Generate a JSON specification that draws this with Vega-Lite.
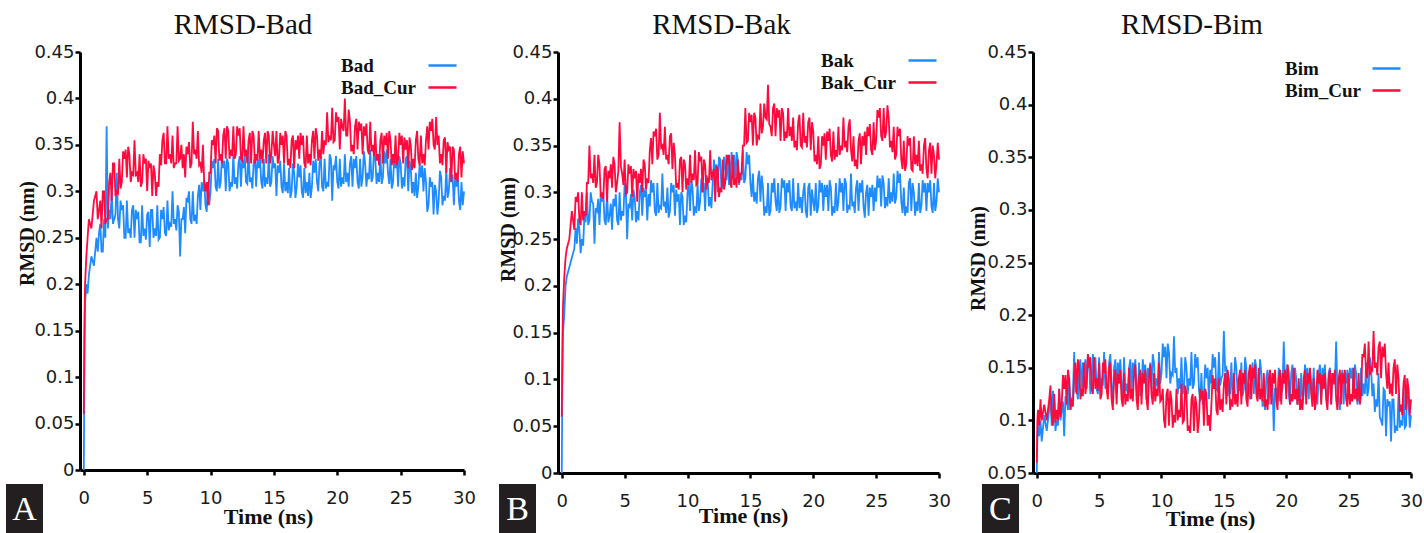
{
"$schema":"https://vega.github.io/schema/vega-lite/v6.json",
"autosize":{"type":"pad"},
"padding":{"left":5,"top":11,"right":0,"bottom":0},
"background":"white",
"spacing":94,
"bounds":"flush",
"config":{
 "view":{"stroke":null},
 "axis":{"domainColor":"black","domainWidth":3,"tickColor":"black","tickWidth":2.5,"tickSize":5,"grid":false,"labelFont":"DejaVu Sans","labelFontSize":18,"labelColor":"#1a1a1a","labelFlush":false,"labelOverlap":false,"titleFont":"Liberation Serif","titleFontSize":20,"titleFontWeight":"bold","titleColor":"#111","titleBaseline":"alphabetic"},
 "axisX":{"labelPadding":14,"titleFontSize":22},
 "axisY":{"labelPadding":1,"titleAngle":-90},
 "title":{"font":"Liberation Serif","fontSize":29,"fontWeight":"normal","color":"#111","frame":"group","anchor":"middle","baseline":"alphabetic","offset":3},
 "legend":{"orient":"top-right","title":null,"symbolType":"M-1.4,0H1.4","symbolSize":400,"symbolStrokeWidth":2.5,"labelFont":"Liberation Serif","labelFontWeight":"bold","labelFontSize":19,"labelColor":"#111","labelAlign":"left","labelOffset":-113,"rowPadding":0,"padding":0}
},
"datasets":{"rmsd":[
{"t":0,"Bad":0,"Bad_Cur":0.06,"Bak":0,"Bak_Cur":0.06,"Bim":0.05,"Bim_Cur":0.06},
{"t":0.05,"Bad":0.12,"Bad_Cur":0.16,"Bak":0.1,"Bak_Cur":0.14,"Bim":0.08,"Bim_Cur":0.1},
{"t":0.1,"Bad":0.18,"Bad_Cur":0.2,"Bak":0.15,"Bak_Cur":0.18,"Bim":0.095,"Bim_Cur":0.11},
{"t":0.2,"Bad":0.2,"Bad_Cur":0.23,"Bak":0.17,"Bak_Cur":0.21,"Bim":0.085,"Bim_Cur":0.095},
{"t":0.3,"Bad":0.19,"Bad_Cur":0.25,"Bak":0.2,"Bak_Cur":0.23,"Bim":0.1,"Bim_Cur":0.12},
{"t":0.4,"Bad":0.21,"Bad_Cur":0.27,"Bak":0.21,"Bak_Cur":0.24,"Bim":0.08,"Bim_Cur":0.1},
{"t":0.6,"Bad":0.23,"Bad_Cur":0.26,"Bak":0.22,"Bak_Cur":0.25,"Bim":0.105,"Bim_Cur":0.115},
{"t":0.8,"Bad":0.22,"Bad_Cur":0.29,"Bak":0.23,"Bak_Cur":0.28,"Bim":0.09,"Bim_Cur":0.1},
{"t":1.0,"Bad":0.25,"Bad_Cur":0.3,"Bak":0.24,"Bak_Cur":0.26,"Bim":0.11,"Bim_Cur":0.12},
{"t":1.2,"Bad":0.255,"Bad_Cur":0.28,"Bak":0.245,"Bak_Cur":0.29,"Bim":0.095,"Bim_Cur":0.105},
{"t":1.4,"Bad":0.235,"Bad_Cur":0.26,"Bak":0.26,"Bak_Cur":0.27,"Bim":0.12,"Bim_Cur":0.125},
{"t":1.6,"Bad":0.27,"Bad_Cur":0.3,"Bak":0.25,"Bak_Cur":0.3,"Bim":0.1,"Bim_Cur":0.11},
{"t":1.8,"Bad":0.37,"Bad_Cur":0.27,"Bak":0.275,"Bak_Cur":0.28,"Bim":0.13,"Bim_Cur":0.13},
{"t":2.0,"Bad":0.28,"Bad_Cur":0.31,"Bak":0.3,"Bak_Cur":0.31,"Bim":0.11,"Bim_Cur":0.115},
{"t":2.2,"Bad":0.3,"Bad_Cur":0.29,"Bak":0.27,"Bak_Cur":0.35,"Bim":0.085,"Bim_Cur":0.13},
{"t":2.4,"Bad":0.27,"Bad_Cur":0.33,"Bak":0.29,"Bak_Cur":0.32,"Bim":0.12,"Bim_Cur":0.115},
{"t":2.6,"Bad":0.32,"Bad_Cur":0.3,"Bak":0.245,"Bak_Cur":0.34,"Bim":0.14,"Bim_Cur":0.14},
{"t":2.8,"Bad":0.26,"Bad_Cur":0.335,"Bak":0.28,"Bak_Cur":0.31,"Bim":0.12,"Bim_Cur":0.12},
{"t":3.0,"Bad":0.28,"Bad_Cur":0.31,"Bak":0.265,"Bak_Cur":0.33,"Bim":0.165,"Bim_Cur":0.145},
{"t":3.2,"Bad":0.25,"Bad_Cur":0.335,"Bak":0.29,"Bak_Cur":0.3,"Bim":0.13,"Bim_Cur":0.125},
{"t":3.4,"Bad":0.29,"Bad_Cur":0.315,"Bak":0.27,"Bak_Cur":0.325,"Bim":0.15,"Bim_Cur":0.15},
{"t":3.6,"Bad":0.26,"Bad_Cur":0.34,"Bak":0.3,"Bak_Cur":0.29,"Bim":0.125,"Bim_Cur":0.13},
{"t":3.8,"Bad":0.28,"Bad_Cur":0.32,"Bak":0.275,"Bak_Cur":0.315,"Bim":0.145,"Bim_Cur":0.155},
{"t":4.0,"Bad":0.25,"Bad_Cur":0.355,"Bak":0.26,"Bak_Cur":0.305,"Bim":0.13,"Bim_Cur":0.135},
{"t":4.2,"Bad":0.27,"Bad_Cur":0.32,"Bak":0.285,"Bak_Cur":0.33,"Bim":0.155,"Bim_Cur":0.15},
{"t":4.4,"Bad":0.245,"Bad_Cur":0.34,"Bak":0.27,"Bak_Cur":0.31,"Bim":0.135,"Bim_Cur":0.13},
{"t":4.6,"Bad":0.285,"Bad_Cur":0.31,"Bak":0.3,"Bak_Cur":0.375,"Bim":0.15,"Bim_Cur":0.16},
{"t":4.8,"Bad":0.26,"Bad_Cur":0.33,"Bak":0.28,"Bak_Cur":0.32,"Bim":0.13,"Bim_Cur":0.14},
{"t":5.0,"Bad":0.275,"Bad_Cur":0.3,"Bak":0.31,"Bak_Cur":0.335,"Bim":0.16,"Bim_Cur":0.155},
{"t":5.2,"Bad":0.24,"Bad_Cur":0.325,"Bak":0.25,"Bak_Cur":0.3,"Bim":0.14,"Bim_Cur":0.125},
{"t":5.4,"Bad":0.28,"Bad_Cur":0.295,"Bak":0.285,"Bak_Cur":0.32,"Bim":0.165,"Bim_Cur":0.145},
{"t":5.6,"Bad":0.26,"Bad_Cur":0.32,"Bak":0.27,"Bak_Cur":0.295,"Bim":0.135,"Bim_Cur":0.13},
{"t":5.8,"Bad":0.285,"Bad_Cur":0.31,"Bak":0.295,"Bak_Cur":0.315,"Bim":0.155,"Bim_Cur":0.15},
{"t":6.0,"Bad":0.25,"Bad_Cur":0.34,"Bak":0.28,"Bak_Cur":0.29,"Bim":0.13,"Bim_Cur":0.12},
{"t":6.2,"Bad":0.27,"Bad_Cur":0.355,"Bak":0.3,"Bak_Cur":0.31,"Bim":0.15,"Bim_Cur":0.14},
{"t":6.4,"Bad":0.255,"Bad_Cur":0.33,"Bak":0.275,"Bak_Cur":0.3,"Bim":0.125,"Bim_Cur":0.115},
{"t":6.6,"Bad":0.29,"Bad_Cur":0.37,"Bak":0.295,"Bak_Cur":0.33,"Bim":0.145,"Bim_Cur":0.135},
{"t":6.8,"Bad":0.265,"Bad_Cur":0.34,"Bak":0.27,"Bak_Cur":0.315,"Bim":0.13,"Bim_Cur":0.12},
{"t":7.0,"Bad":0.3,"Bad_Cur":0.36,"Bak":0.285,"Bak_Cur":0.345,"Bim":0.16,"Bim_Cur":0.145},
{"t":7.2,"Bad":0.27,"Bad_Cur":0.33,"Bak":0.3,"Bak_Cur":0.33,"Bim":0.135,"Bim_Cur":0.125},
{"t":7.4,"Bad":0.285,"Bad_Cur":0.37,"Bak":0.28,"Bak_Cur":0.36,"Bim":0.15,"Bim_Cur":0.15},
{"t":7.6,"Bad":0.23,"Bad_Cur":0.335,"Bak":0.31,"Bak_Cur":0.335,"Bim":0.125,"Bim_Cur":0.13},
{"t":7.8,"Bad":0.27,"Bad_Cur":0.325,"Bak":0.285,"Bak_Cur":0.385,"Bim":0.145,"Bim_Cur":0.145},
{"t":8.0,"Bad":0.255,"Bad_Cur":0.315,"Bak":0.32,"Bak_Cur":0.35,"Bim":0.13,"Bim_Cur":0.12},
{"t":8.2,"Bad":0.29,"Bad_Cur":0.34,"Bak":0.29,"Bak_Cur":0.37,"Bim":0.155,"Bim_Cur":0.14},
{"t":8.4,"Bad":0.27,"Bad_Cur":0.325,"Bak":0.305,"Bak_Cur":0.34,"Bim":0.13,"Bim_Cur":0.115},
{"t":8.6,"Bad":0.3,"Bad_Cur":0.375,"Bak":0.28,"Bak_Cur":0.36,"Bim":0.145,"Bim_Cur":0.135},
{"t":8.8,"Bad":0.275,"Bad_Cur":0.345,"Bak":0.3,"Bak_Cur":0.325,"Bim":0.12,"Bim_Cur":0.12},
{"t":9.0,"Bad":0.295,"Bad_Cur":0.365,"Bak":0.275,"Bak_Cur":0.34,"Bim":0.14,"Bim_Cur":0.14},
{"t":9.2,"Bad":0.28,"Bad_Cur":0.33,"Bak":0.29,"Bak_Cur":0.31,"Bim":0.13,"Bim_Cur":0.125},
{"t":9.4,"Bad":0.3,"Bad_Cur":0.35,"Bak":0.265,"Bak_Cur":0.335,"Bim":0.155,"Bim_Cur":0.145},
{"t":9.6,"Bad":0.285,"Bad_Cur":0.3,"Bak":0.295,"Bak_Cur":0.3,"Bim":0.14,"Bim_Cur":0.13},
{"t":9.8,"Bad":0.31,"Bad_Cur":0.285,"Bak":0.275,"Bak_Cur":0.33,"Bim":0.165,"Bim_Cur":0.155},
{"t":10.0,"Bad":0.3,"Bad_Cur":0.32,"Bak":0.3,"Bak_Cur":0.315,"Bim":0.145,"Bim_Cur":0.12},
{"t":10.2,"Bad":0.325,"Bad_Cur":0.35,"Bak":0.28,"Bak_Cur":0.34,"Bim":0.16,"Bim_Cur":0.1},
{"t":10.4,"Bad":0.305,"Bad_Cur":0.33,"Bak":0.305,"Bak_Cur":0.32,"Bim":0.14,"Bim_Cur":0.125},
{"t":10.6,"Bad":0.335,"Bad_Cur":0.365,"Bak":0.285,"Bak_Cur":0.345,"Bim":0.165,"Bim_Cur":0.095},
{"t":10.8,"Bad":0.31,"Bad_Cur":0.34,"Bak":0.31,"Bak_Cur":0.31,"Bim":0.145,"Bim_Cur":0.12},
{"t":11.0,"Bad":0.325,"Bad_Cur":0.36,"Bak":0.29,"Bak_Cur":0.335,"Bim":0.18,"Bim_Cur":0.105},
{"t":11.2,"Bad":0.3,"Bad_Cur":0.335,"Bak":0.3,"Bak_Cur":0.3,"Bim":0.15,"Bim_Cur":0.13},
{"t":11.4,"Bad":0.33,"Bad_Cur":0.365,"Bak":0.28,"Bak_Cur":0.33,"Bim":0.14,"Bim_Cur":0.11},
{"t":11.6,"Bad":0.31,"Bad_Cur":0.345,"Bak":0.315,"Bak_Cur":0.315,"Bim":0.16,"Bim_Cur":0.135},
{"t":11.8,"Bad":0.34,"Bad_Cur":0.37,"Bak":0.295,"Bak_Cur":0.345,"Bim":0.13,"Bim_Cur":0.1},
{"t":12.0,"Bad":0.315,"Bad_Cur":0.34,"Bak":0.31,"Bak_Cur":0.32,"Bim":0.15,"Bim_Cur":0.125},
{"t":12.2,"Bad":0.33,"Bad_Cur":0.36,"Bak":0.32,"Bak_Cur":0.29,"Bim":0.14,"Bim_Cur":0.095},
{"t":12.4,"Bad":0.305,"Bad_Cur":0.335,"Bak":0.3,"Bak_Cur":0.325,"Bim":0.165,"Bim_Cur":0.12},
{"t":12.6,"Bad":0.325,"Bad_Cur":0.37,"Bak":0.335,"Bak_Cur":0.305,"Bim":0.135,"Bim_Cur":0.09},
{"t":12.8,"Bad":0.31,"Bad_Cur":0.345,"Bak":0.31,"Bak_Cur":0.335,"Bim":0.15,"Bim_Cur":0.115},
{"t":13.0,"Bad":0.345,"Bad_Cur":0.355,"Bak":0.325,"Bak_Cur":0.31,"Bim":0.13,"Bim_Cur":0.1},
{"t":13.2,"Bad":0.315,"Bad_Cur":0.33,"Bak":0.34,"Bak_Cur":0.33,"Bim":0.145,"Bim_Cur":0.12},
{"t":13.4,"Bad":0.33,"Bad_Cur":0.36,"Bak":0.315,"Bak_Cur":0.31,"Bim":0.125,"Bim_Cur":0.095},
{"t":13.6,"Bad":0.305,"Bad_Cur":0.34,"Bak":0.33,"Bak_Cur":0.34,"Bim":0.14,"Bim_Cur":0.125},
{"t":13.8,"Bad":0.325,"Bad_Cur":0.365,"Bak":0.31,"Bak_Cur":0.315,"Bim":0.12,"Bim_Cur":0.105},
{"t":14.0,"Bad":0.31,"Bad_Cur":0.345,"Bak":0.335,"Bak_Cur":0.335,"Bim":0.135,"Bim_Cur":0.115},
{"t":14.2,"Bad":0.335,"Bad_Cur":0.355,"Bak":0.32,"Bak_Cur":0.32,"Bim":0.15,"Bim_Cur":0.13},
{"t":14.4,"Bad":0.315,"Bad_Cur":0.33,"Bak":0.345,"Bak_Cur":0.35,"Bim":0.13,"Bim_Cur":0.11},
{"t":14.6,"Bad":0.34,"Bad_Cur":0.36,"Bak":0.315,"Bak_Cur":0.39,"Bim":0.165,"Bim_Cur":0.14},
{"t":14.8,"Bad":0.31,"Bad_Cur":0.34,"Bak":0.33,"Bak_Cur":0.355,"Bim":0.14,"Bim_Cur":0.12},
{"t":15.0,"Bad":0.325,"Bad_Cur":0.35,"Bak":0.31,"Bak_Cur":0.375,"Bim":0.185,"Bim_Cur":0.135},
{"t":15.2,"Bad":0.295,"Bad_Cur":0.365,"Bak":0.32,"Bak_Cur":0.35,"Bim":0.15,"Bim_Cur":0.115},
{"t":15.4,"Bad":0.32,"Bad_Cur":0.335,"Bak":0.3,"Bak_Cur":0.38,"Bim":0.135,"Bim_Cur":0.14},
{"t":15.6,"Bad":0.305,"Bad_Cur":0.35,"Bak":0.315,"Bak_Cur":0.36,"Bim":0.155,"Bim_Cur":0.12},
{"t":15.8,"Bad":0.33,"Bad_Cur":0.33,"Bak":0.29,"Bak_Cur":0.395,"Bim":0.13,"Bim_Cur":0.145},
{"t":16.0,"Bad":0.31,"Bad_Cur":0.36,"Bak":0.305,"Bak_Cur":0.37,"Bim":0.15,"Bim_Cur":0.125},
{"t":16.2,"Bad":0.325,"Bad_Cur":0.335,"Bak":0.285,"Bak_Cur":0.38,"Bim":0.14,"Bim_Cur":0.14},
{"t":16.4,"Bad":0.3,"Bad_Cur":0.355,"Bak":0.31,"Bak_Cur":0.415,"Bim":0.155,"Bim_Cur":0.115},
{"t":16.6,"Bad":0.32,"Bad_Cur":0.325,"Bak":0.28,"Bak_Cur":0.37,"Bim":0.13,"Bim_Cur":0.135},
{"t":16.8,"Bad":0.305,"Bad_Cur":0.345,"Bak":0.3,"Bak_Cur":0.39,"Bim":0.15,"Bim_Cur":0.12},
{"t":17.0,"Bad":0.315,"Bad_Cur":0.335,"Bak":0.29,"Bak_Cur":0.36,"Bim":0.135,"Bim_Cur":0.145},
{"t":17.2,"Bad":0.3,"Bad_Cur":0.35,"Bak":0.31,"Bak_Cur":0.38,"Bim":0.145,"Bim_Cur":0.12},
{"t":17.4,"Bad":0.325,"Bad_Cur":0.33,"Bak":0.285,"Bak_Cur":0.355,"Bim":0.125,"Bim_Cur":0.14},
{"t":17.6,"Bad":0.31,"Bad_Cur":0.36,"Bak":0.305,"Bak_Cur":0.385,"Bim":0.15,"Bim_Cur":0.125},
{"t":17.8,"Bad":0.32,"Bad_Cur":0.34,"Bak":0.28,"Bak_Cur":0.365,"Bim":0.13,"Bim_Cur":0.15},
{"t":18.0,"Bad":0.305,"Bad_Cur":0.355,"Bak":0.3,"Bak_Cur":0.39,"Bim":0.145,"Bim_Cur":0.13},
{"t":18.2,"Bad":0.32,"Bad_Cur":0.335,"Bak":0.285,"Bak_Cur":0.37,"Bim":0.12,"Bim_Cur":0.145},
{"t":18.4,"Bad":0.31,"Bad_Cur":0.36,"Bak":0.315,"Bak_Cur":0.38,"Bim":0.14,"Bim_Cur":0.12},
{"t":18.6,"Bad":0.33,"Bad_Cur":0.345,"Bak":0.29,"Bak_Cur":0.355,"Bim":0.115,"Bim_Cur":0.14},
{"t":18.8,"Bad":0.305,"Bad_Cur":0.365,"Bak":0.31,"Bak_Cur":0.375,"Bim":0.135,"Bim_Cur":0.115},
{"t":19.0,"Bad":0.335,"Bad_Cur":0.355,"Bak":0.295,"Bak_Cur":0.35,"Bim":0.09,"Bim_Cur":0.135},
{"t":19.2,"Bad":0.31,"Bad_Cur":0.385,"Bak":0.3,"Bak_Cur":0.385,"Bim":0.13,"Bim_Cur":0.12},
{"t":19.4,"Bad":0.34,"Bad_Cur":0.36,"Bak":0.28,"Bak_Cur":0.36,"Bim":0.15,"Bim_Cur":0.14},
{"t":19.6,"Bad":0.29,"Bad_Cur":0.39,"Bak":0.305,"Bak_Cur":0.375,"Bim":0.125,"Bim_Cur":0.115},
{"t":19.8,"Bad":0.325,"Bad_Cur":0.355,"Bak":0.275,"Bak_Cur":0.345,"Bim":0.175,"Bim_Cur":0.135},
{"t":20.0,"Bad":0.31,"Bad_Cur":0.375,"Bak":0.29,"Bak_Cur":0.365,"Bim":0.14,"Bim_Cur":0.12},
{"t":20.2,"Bad":0.335,"Bad_Cur":0.345,"Bak":0.31,"Bak_Cur":0.34,"Bim":0.125,"Bim_Cur":0.145},
{"t":20.4,"Bad":0.315,"Bad_Cur":0.37,"Bak":0.285,"Bak_Cur":0.36,"Bim":0.145,"Bim_Cur":0.125},
{"t":20.6,"Bad":0.34,"Bad_Cur":0.4,"Bak":0.3,"Bak_Cur":0.33,"Bim":0.12,"Bim_Cur":0.15},
{"t":20.8,"Bad":0.32,"Bad_Cur":0.36,"Bak":0.28,"Bak_Cur":0.35,"Bim":0.14,"Bim_Cur":0.13},
{"t":21.0,"Bad":0.33,"Bad_Cur":0.375,"Bak":0.295,"Bak_Cur":0.335,"Bim":0.13,"Bim_Cur":0.14},
{"t":21.2,"Bad":0.305,"Bad_Cur":0.35,"Bak":0.28,"Bak_Cur":0.355,"Bim":0.145,"Bim_Cur":0.12},
{"t":21.4,"Bad":0.325,"Bad_Cur":0.37,"Bak":0.305,"Bak_Cur":0.34,"Bim":0.125,"Bim_Cur":0.14},
{"t":21.6,"Bad":0.31,"Bad_Cur":0.345,"Bak":0.285,"Bak_Cur":0.365,"Bim":0.14,"Bim_Cur":0.115},
{"t":21.8,"Bad":0.335,"Bad_Cur":0.365,"Bak":0.31,"Bak_Cur":0.345,"Bim":0.12,"Bim_Cur":0.135},
{"t":22.0,"Bad":0.315,"Bad_Cur":0.34,"Bak":0.29,"Bak_Cur":0.37,"Bim":0.135,"Bim_Cur":0.125},
{"t":22.2,"Bad":0.33,"Bad_Cur":0.36,"Bak":0.3,"Bak_Cur":0.35,"Bim":0.15,"Bim_Cur":0.14},
{"t":22.4,"Bad":0.32,"Bad_Cur":0.345,"Bak":0.28,"Bak_Cur":0.38,"Bim":0.125,"Bim_Cur":0.12},
{"t":22.6,"Bad":0.345,"Bad_Cur":0.375,"Bak":0.31,"Bak_Cur":0.355,"Bim":0.145,"Bim_Cur":0.135},
{"t":22.8,"Bad":0.315,"Bad_Cur":0.35,"Bak":0.285,"Bak_Cur":0.37,"Bim":0.12,"Bim_Cur":0.115},
{"t":23.0,"Bad":0.335,"Bad_Cur":0.365,"Bak":0.32,"Bak_Cur":0.345,"Bim":0.14,"Bim_Cur":0.13},
{"t":23.2,"Bad":0.32,"Bad_Cur":0.34,"Bak":0.29,"Bak_Cur":0.36,"Bim":0.125,"Bim_Cur":0.12},
{"t":23.4,"Bad":0.34,"Bad_Cur":0.355,"Bak":0.305,"Bak_Cur":0.335,"Bim":0.145,"Bim_Cur":0.14},
{"t":23.6,"Bad":0.315,"Bad_Cur":0.33,"Bak":0.28,"Bak_Cur":0.355,"Bim":0.115,"Bim_Cur":0.115},
{"t":23.8,"Bad":0.33,"Bad_Cur":0.35,"Bak":0.3,"Bak_Cur":0.33,"Bim":0.135,"Bim_Cur":0.135},
{"t":24.0,"Bad":0.32,"Bad_Cur":0.335,"Bak":0.285,"Bak_Cur":0.35,"Bim":0.175,"Bim_Cur":0.12},
{"t":24.2,"Bad":0.335,"Bad_Cur":0.355,"Bak":0.3,"Bak_Cur":0.34,"Bim":0.12,"Bim_Cur":0.14},
{"t":24.4,"Bad":0.31,"Bad_Cur":0.34,"Bak":0.275,"Bak_Cur":0.36,"Bim":0.14,"Bim_Cur":0.115},
{"t":24.6,"Bad":0.325,"Bad_Cur":0.36,"Bak":0.295,"Bak_Cur":0.345,"Bim":0.115,"Bim_Cur":0.135},
{"t":24.8,"Bad":0.305,"Bad_Cur":0.335,"Bak":0.28,"Bak_Cur":0.375,"Bim":0.135,"Bim_Cur":0.12},
{"t":25.0,"Bad":0.33,"Bad_Cur":0.35,"Bak":0.29,"Bak_Cur":0.355,"Bim":0.12,"Bim_Cur":0.145},
{"t":25.2,"Bad":0.315,"Bad_Cur":0.33,"Bak":0.305,"Bak_Cur":0.38,"Bim":0.14,"Bim_Cur":0.125},
{"t":25.4,"Bad":0.335,"Bad_Cur":0.345,"Bak":0.285,"Bak_Cur":0.36,"Bim":0.12,"Bim_Cur":0.15},
{"t":25.6,"Bad":0.3,"Bad_Cur":0.325,"Bak":0.31,"Bak_Cur":0.39,"Bim":0.145,"Bim_Cur":0.13},
{"t":25.8,"Bad":0.325,"Bad_Cur":0.35,"Bak":0.295,"Bak_Cur":0.365,"Bim":0.125,"Bim_Cur":0.145},
{"t":26.0,"Bad":0.31,"Bad_Cur":0.335,"Bak":0.315,"Bak_Cur":0.38,"Bim":0.15,"Bim_Cur":0.125},
{"t":26.2,"Bad":0.32,"Bad_Cur":0.355,"Bak":0.3,"Bak_Cur":0.355,"Bim":0.135,"Bim_Cur":0.16},
{"t":26.4,"Bad":0.305,"Bad_Cur":0.335,"Bak":0.32,"Bak_Cur":0.37,"Bim":0.155,"Bim_Cur":0.145},
{"t":26.6,"Bad":0.315,"Bad_Cur":0.36,"Bak":0.295,"Bak_Cur":0.34,"Bim":0.13,"Bim_Cur":0.175},
{"t":26.8,"Bad":0.3,"Bad_Cur":0.34,"Bak":0.31,"Bak_Cur":0.36,"Bim":0.15,"Bim_Cur":0.15},
{"t":27.0,"Bad":0.31,"Bad_Cur":0.355,"Bak":0.29,"Bak_Cur":0.335,"Bim":0.135,"Bim_Cur":0.185},
{"t":27.2,"Bad":0.285,"Bad_Cur":0.345,"Bak":0.305,"Bak_Cur":0.355,"Bim":0.12,"Bim_Cur":0.155},
{"t":27.4,"Bad":0.305,"Bad_Cur":0.365,"Bak":0.285,"Bak_Cur":0.33,"Bim":0.145,"Bim_Cur":0.17},
{"t":27.6,"Bad":0.275,"Bad_Cur":0.35,"Bak":0.31,"Bak_Cur":0.35,"Bim":0.1,"Bim_Cur":0.14},
{"t":27.8,"Bad":0.3,"Bad_Cur":0.38,"Bak":0.28,"Bak_Cur":0.325,"Bim":0.13,"Bim_Cur":0.16},
{"t":28.0,"Bad":0.29,"Bad_Cur":0.36,"Bak":0.3,"Bak_Cur":0.36,"Bim":0.085,"Bim_Cur":0.145},
{"t":28.2,"Bad":0.315,"Bad_Cur":0.34,"Bak":0.29,"Bak_Cur":0.34,"Bim":0.115,"Bim_Cur":0.155},
{"t":28.4,"Bad":0.295,"Bad_Cur":0.355,"Bak":0.31,"Bak_Cur":0.355,"Bim":0.08,"Bim_Cur":0.135},
{"t":28.6,"Bad":0.325,"Bad_Cur":0.32,"Bak":0.285,"Bak_Cur":0.33,"Bim":0.12,"Bim_Cur":0.15},
{"t":28.8,"Bad":0.3,"Bad_Cur":0.345,"Bak":0.3,"Bak_Cur":0.35,"Bim":0.095,"Bim_Cur":0.125},
{"t":29.0,"Bad":0.31,"Bad_Cur":0.31,"Bak":0.28,"Bak_Cur":0.325,"Bim":0.125,"Bim_Cur":0.14},
{"t":29.2,"Bad":0.285,"Bad_Cur":0.345,"Bak":0.3,"Bak_Cur":0.345,"Bim":0.1,"Bim_Cur":0.115},
{"t":29.4,"Bad":0.305,"Bad_Cur":0.32,"Bak":0.285,"Bak_Cur":0.32,"Bim":0.13,"Bim_Cur":0.135},
{"t":29.6,"Bad":0.29,"Bad_Cur":0.34,"Bak":0.31,"Bak_Cur":0.34,"Bim":0.095,"Bim_Cur":0.11},
{"t":29.8,"Bad":0.31,"Bad_Cur":0.315,"Bak":0.29,"Bak_Cur":0.33,"Bim":0.12,"Bim_Cur":0.13},
{"t":30.0,"Bad":0.3,"Bad_Cur":0.33,"Bak":0.3,"Bak_Cur":0.335,"Bim":0.105,"Bim_Cur":0.12},
{"t":1.1,"Bad":0.235,"Bad_Cur":0.27,"Bak":0.262,"Bak_Cur":0.295,"Bim":0.123,"Bim_Cur":0.133},
{"t":1.3,"Bad":0.265,"Bad_Cur":0.29,"Bak":0.272,"Bak_Cur":0.3,"Bim":0.128,"Bim_Cur":0.095},
{"t":1.5,"Bad":0.235,"Bad_Cur":0.3,"Bak":0.235,"Bak_Cur":0.265,"Bim":0.09,"Bim_Cur":0.098},
{"t":1.7,"Bad":0.25,"Bad_Cur":0.265,"Bak":0.243,"Bak_Cur":0.27,"Bim":0.095,"Bim_Cur":0.1},
{"t":1.9,"Bad":0.26,"Bad_Cur":0.27,"Bak":0.268,"Bak_Cur":0.275,"Bim":0.1,"Bim_Cur":0.103},
{"t":2.1,"Bad":0.27,"Bad_Cur":0.32,"Bak":0.265,"Bak_Cur":0.31,"Bim":0.118,"Bim_Cur":0.143},
{"t":2.3,"Bad":0.265,"Bad_Cur":0.33,"Bak":0.3,"Bak_Cur":0.315,"Bim":0.123,"Bim_Cur":0.143},
{"t":2.5,"Bad":0.275,"Bad_Cur":0.295,"Bak":0.288,"Bak_Cur":0.31,"Bim":0.11,"Bim_Cur":0.148},
{"t":2.7,"Bad":0.27,"Bad_Cur":0.298,"Bak":0.283,"Bak_Cur":0.305,"Bim":0.11,"Bim_Cur":0.11},
{"t":2.9,"Bad":0.29,"Bad_Cur":0.303,"Bak":0.293,"Bak_Cur":0.34,"Bim":0.123,"Bim_Cur":0.113},
{"t":3.1,"Bad":0.285,"Bad_Cur":0.343,"Bak":0.298,"Bak_Cur":0.295,"Bim":0.128,"Bim_Cur":0.155},
{"t":3.3,"Bad":0.25,"Bad_Cur":0.345,"Bak":0.3,"Bak_Cur":0.293,"Bim":0.12,"Bim_Cur":0.158},
{"t":3.5,"Bad":0.255,"Bad_Cur":0.348,"Bak":0.265,"Bak_Cur":0.328,"Bim":0.158,"Bim_Cur":0.12},
{"t":3.7,"Bad":0.25,"Bad_Cur":0.31,"Bak":0.268,"Bak_Cur":0.323,"Bim":0.155,"Bim_Cur":0.123},
{"t":3.9,"Bad":0.285,"Bad_Cur":0.318,"Bak":0.288,"Bak_Cur":0.33,"Bim":0.158,"Bim_Cur":0.125},
{"t":4.1,"Bad":0.28,"Bad_Cur":0.318,"Bak":0.293,"Bak_Cur":0.338,"Bim":0.163,"Bim_Cur":0.163},
{"t":4.3,"Bad":0.278,"Bad_Cur":0.31,"Bak":0.298,"Bak_Cur":0.3,"Bim":0.125,"Bim_Cur":0.16},
{"t":4.5,"Bad":0.245,"Bad_Cur":0.305,"Bak":0.265,"Bak_Cur":0.323,"Bim":0.163,"Bim_Cur":0.125},
{"t":4.7,"Bad":0.252,"Bad_Cur":0.34,"Bak":0.27,"Bak_Cur":0.328,"Bim":0.16,"Bim_Cur":0.13},
{"t":4.9,"Bad":0.248,"Bad_Cur":0.335,"Bak":0.275,"Bak_Cur":0.308,"Bim":0.125,"Bim_Cur":0.128},
{"t":5.1,"Bad":0.278,"Bad_Cur":0.333,"Bak":0.3,"Bak_Cur":0.298,"Bim":0.13,"Bim_Cur":0.12},
{"t":5.3,"Bad":0.28,"Bad_Cur":0.33,"Bak":0.288,"Bak_Cur":0.33,"Bim":0.133,"Bim_Cur":0.155},
{"t":5.5,"Bad":0.25,"Bad_Cur":0.328,"Bak":0.298,"Bak_Cur":0.328,"Bim":0.13,"Bim_Cur":0.158},
{"t":5.7,"Bad":0.252,"Bad_Cur":0.295,"Bak":0.303,"Bak_Cur":0.325,"Bim":0.125,"Bim_Cur":0.12},
{"t":5.9,"Bad":0.248,"Bad_Cur":0.305,"Bak":0.268,"Bak_Cur":0.323,"Bim":0.163,"Bim_Cur":0.155},
{"t":6.1,"Bad":0.28,"Bad_Cur":0.328,"Bak":0.27,"Bak_Cur":0.32,"Bim":0.12,"Bim_Cur":0.11},
{"t":6.3,"Bad":0.283,"Bad_Cur":0.363,"Bak":0.308,"Bak_Cur":0.325,"Bim":0.158,"Bim_Cur":0.148},
{"t":6.5,"Bad":0.252,"Bad_Cur":0.33,"Bak":0.305,"Bak_Cur":0.335,"Bim":0.155,"Bim_Cur":0.145},
{"t":6.7,"Bad":0.258,"Bad_Cur":0.335,"Bak":0.303,"Bak_Cur":0.303,"Bim":0.158,"Bim_Cur":0.148},
{"t":6.9,"Bad":0.262,"Bad_Cur":0.33,"Bak":0.298,"Bak_Cur":0.31,"Bim":0.125,"Bim_Cur":0.113},
{"t":7.1,"Bad":0.265,"Bad_Cur":0.325,"Bak":0.313,"Bak_Cur":0.358,"Bim":0.128,"Bim_Cur":0.115},
{"t":7.3,"Bad":0.258,"Bad_Cur":0.33,"Bak":0.31,"Bak_Cur":0.365,"Bim":0.123,"Bim_Cur":0.118},
{"t":7.5,"Bad":0.278,"Bad_Cur":0.333,"Bak":0.275,"Bak_Cur":0.368,"Bim":0.158,"Bim_Cur":0.12},
{"t":7.7,"Bad":0.27,"Bad_Cur":0.35,"Bak":0.278,"Bak_Cur":0.34,"Bim":0.155,"Bim_Cur":0.118},
{"t":7.9,"Bad":0.283,"Bad_Cur":0.34,"Bak":0.283,"Bak_Cur":0.348,"Bim":0.158,"Bim_Cur":0.153},
{"t":8.1,"Bad":0.293,"Bad_Cur":0.348,"Bak":0.285,"Bak_Cur":0.34,"Bim":0.123,"Bim_Cur":0.11},
{"t":8.3,"Bad":0.3,"Bad_Cur":0.353,"Bak":0.278,"Bak_Cur":0.335,"Bim":0.123,"Bim_Cur":0.148},
{"t":8.5,"Bad":0.265,"Bad_Cur":0.33,"Bak":0.273,"Bak_Cur":0.33,"Bim":0.158,"Bim_Cur":0.145},
{"t":8.7,"Bad":0.268,"Bad_Cur":0.34,"Bak":0.31,"Bak_Cur":0.363,"Bim":0.153,"Bim_Cur":0.148},
{"t":8.9,"Bad":0.265,"Bad_Cur":0.335,"Bak":0.308,"Bak_Cur":0.353,"Bim":0.15,"Bim_Cur":0.11},
{"t":9.1,"Bad":0.307,"Bad_Cur":0.328,"Bak":0.303,"Bak_Cur":0.305,"Bim":0.155,"Bim_Cur":0.153},
{"t":9.3,"Bad":0.31,"Bad_Cur":0.32,"Bak":0.298,"Bak_Cur":0.303,"Bim":0.163,"Bim_Cur":0.115},
{"t":9.5,"Bad":0.312,"Bad_Cur":0.31,"Bak":0.3,"Bak_Cur":0.338,"Bim":0.128,"Bim_Cur":0.118},
{"t":9.7,"Bad":0.278,"Bad_Cur":0.31,"Bak":0.265,"Bak_Cur":0.335,"Bim":0.133,"Bim_Cur":0.123},
{"t":9.9,"Bad":0.285,"Bad_Cur":0.32,"Bak":0.268,"Bak_Cur":0.303,"Bim":0.135,"Bim_Cur":0.118},
{"t":10.1,"Bad":0.333,"Bad_Cur":0.355,"Bak":0.31,"Bak_Cur":0.308,"Bim":0.173,"Bim_Cur":0.13},
{"t":10.3,"Bad":0.335,"Bad_Cur":0.36,"Bak":0.313,"Bak_Cur":0.31,"Bim":0.17,"Bim_Cur":0.093},
{"t":10.5,"Bad":0.3,"Bad_Cur":0.368,"Bak":0.275,"Bak_Cur":0.313,"Bim":0.173,"Bim_Cur":0.13},
{"t":10.7,"Bad":0.303,"Bad_Cur":0.333,"Bak":0.278,"Bak_Cur":0.308,"Bim":0.135,"Bim_Cur":0.128},
{"t":10.9,"Bad":0.338,"Bad_Cur":0.33,"Bak":0.28,"Bak_Cur":0.343,"Bim":0.143,"Bim_Cur":0.093},
{"t":11.1,"Bad":0.333,"Bad_Cur":0.368,"Bak":0.315,"Bak_Cur":0.338,"Bim":0.145,"Bim_Cur":0.098},
{"t":11.3,"Bad":0.335,"Bad_Cur":0.37,"Bak":0.31,"Bak_Cur":0.335,"Bim":0.125,"Bim_Cur":0.1},
{"t":11.5,"Bad":0.3,"Bad_Cur":0.335,"Bak":0.318,"Bak_Cur":0.303,"Bim":0.13,"Bim_Cur":0.103},
{"t":11.7,"Bad":0.305,"Bad_Cur":0.338,"Bak":0.285,"Bak_Cur":0.31,"Bim":0.125,"Bim_Cur":0.098},
{"t":11.9,"Bad":0.308,"Bad_Cur":0.335,"Bak":0.283,"Bak_Cur":0.313,"Bim":0.16,"Bim_Cur":0.133},
{"t":12.1,"Bad":0.303,"Bad_Cur":0.37,"Bak":0.335,"Bak_Cur":0.325,"Bim":0.125,"Bim_Cur":0.09},
{"t":12.3,"Bad":0.338,"Bad_Cur":0.368,"Bak":0.33,"Bak_Cur":0.328,"Bim":0.133,"Bim_Cur":0.088},
{"t":12.5,"Bad":0.335,"Bad_Cur":0.333,"Bak":0.338,"Bak_Cur":0.295,"Bim":0.13,"Bim_Cur":0.125},
{"t":12.7,"Bad":0.338,"Bad_Cur":0.338,"Bak":0.303,"Bak_Cur":0.3,"Bim":0.163,"Bim_Cur":0.123},
{"t":12.9,"Bad":0.308,"Bad_Cur":0.33,"Bak":0.338,"Bak_Cur":0.303,"Bim":0.16,"Bim_Cur":0.088},
{"t":13.1,"Bad":0.31,"Bad_Cur":0.363,"Bak":0.313,"Bak_Cur":0.34,"Bim":0.118,"Bim_Cur":0.13},
{"t":13.3,"Bad":0.303,"Bad_Cur":0.365,"Bak":0.308,"Bak_Cur":0.34,"Bim":0.115,"Bim_Cur":0.128},
{"t":13.5,"Bad":0.338,"Bad_Cur":0.33,"Bak":0.343,"Bak_Cur":0.305,"Bim":0.153,"Bim_Cur":0.13},
{"t":13.7,"Bad":0.335,"Bad_Cur":0.333,"Bak":0.34,"Bak_Cur":0.308,"Bim":0.15,"Bim_Cur":0.095},
{"t":13.9,"Bad":0.338,"Bad_Cur":0.335,"Bak":0.343,"Bak_Cur":0.305,"Bim":0.148,"Bim_Cur":0.09},
{"t":14.1,"Bad":0.303,"Bad_Cur":0.33,"Bak":0.308,"Bak_Cur":0.31,"Bim":0.163,"Bim_Cur":0.143},
{"t":14.3,"Bad":0.305,"Bad_Cur":0.363,"Bak":0.313,"Bak_Cur":0.32,"Bim":0.16,"Bim_Cur":0.14},
{"t":14.5,"Bad":0.308,"Bad_Cur":0.365,"Bak":0.31,"Bak_Cur":0.35,"Bim":0.128,"Bim_Cur":0.105},
{"t":14.7,"Bad":0.305,"Bad_Cur":0.33,"Bak":0.343,"Bak_Cur":0.353,"Bim":0.133,"Bim_Cur":0.11},
{"t":14.9,"Bad":0.338,"Bad_Cur":0.365,"Bak":0.34,"Bak_Cur":0.385,"Bim":0.143,"Bim_Cur":0.108},
{"t":15.1,"Bad":0.33,"Bad_Cur":0.338,"Bak":0.295,"Bak_Cur":0.383,"Bim":0.148,"Bim_Cur":0.145},
{"t":15.3,"Bad":0.328,"Bad_Cur":0.33,"Bak":0.29,"Bak_Cur":0.385,"Bim":0.123,"Bim_Cur":0.148},
{"t":15.5,"Bad":0.333,"Bad_Cur":0.363,"Bak":0.288,"Bak_Cur":0.35,"Bim":0.125,"Bim_Cur":0.11},
{"t":15.7,"Bad":0.298,"Bad_Cur":0.36,"Bak":0.323,"Bak_Cur":0.358,"Bim":0.123,"Bim_Cur":0.113},
{"t":15.9,"Bad":0.3,"Bad_Cur":0.365,"Bak":0.318,"Bak_Cur":0.363,"Bim":0.16,"Bim_Cur":0.115},
{"t":16.1,"Bad":0.298,"Bad_Cur":0.328,"Bak":0.275,"Bak_Cur":0.395,"Bim":0.125,"Bim_Cur":0.113},
{"t":16.3,"Bad":0.293,"Bad_Cur":0.325,"Bak":0.278,"Bak_Cur":0.378,"Bim":0.128,"Bim_Cur":0.148},
{"t":16.5,"Bad":0.33,"Bad_Cur":0.36,"Bak":0.275,"Bak_Cur":0.373,"Bim":0.123,"Bim_Cur":0.145},
{"t":16.7,"Bad":0.293,"Bad_Cur":0.355,"Bak":0.31,"Bak_Cur":0.36,"Bim":0.16,"Bim_Cur":0.148},
{"t":16.9,"Bad":0.33,"Bad_Cur":0.36,"Bak":0.315,"Bak_Cur":0.395,"Bim":0.123,"Bim_Cur":0.113},
{"t":17.1,"Bad":0.328,"Bad_Cur":0.363,"Bak":0.28,"Bak_Cur":0.39,"Bim":0.12,"Bim_Cur":0.153},
{"t":17.3,"Bad":0.293,"Bad_Cur":0.36,"Bak":0.278,"Bak_Cur":0.388,"Bim":0.155,"Bim_Cur":0.15},
{"t":17.5,"Bad":0.298,"Bad_Cur":0.325,"Bak":0.315,"Bak_Cur":0.39,"Bim":0.158,"Bim_Cur":0.153},
{"t":17.7,"Bad":0.295,"Bad_Cur":0.33,"Bak":0.313,"Bak_Cur":0.355,"Bim":0.12,"Bim_Cur":0.118},
{"t":17.9,"Bad":0.293,"Bad_Cur":0.328,"Bak":0.31,"Bak_Cur":0.358,"Bim":0.158,"Bim_Cur":0.12},
{"t":18.1,"Bad":0.333,"Bad_Cur":0.365,"Bak":0.313,"Bak_Cur":0.36,"Bim":0.113,"Bim_Cur":0.118},
{"t":18.3,"Bad":0.335,"Bad_Cur":0.368,"Bak":0.28,"Bak_Cur":0.355,"Bim":0.11,"Bim_Cur":0.113},
{"t":18.5,"Bad":0.3,"Bad_Cur":0.333,"Bak":0.283,"Bak_Cur":0.348,"Bim":0.148,"Bim_Cur":0.11},
{"t":18.7,"Bad":0.338,"Bad_Cur":0.335,"Bak":0.28,"Bak_Cur":0.345,"Bim":0.145,"Bim_Cur":0.148},
{"t":18.9,"Bad":0.3,"Bad_Cur":0.34,"Bak":0.283,"Bak_Cur":0.383,"Bim":0.133,"Bim_Cur":0.145},
{"t":19.1,"Bad":0.303,"Bad_Cur":0.35,"Bak":0.278,"Bak_Cur":0.348,"Bim":0.13,"Bim_Cur":0.148},
{"t":19.3,"Bad":0.305,"Bad_Cur":0.353,"Bak":0.31,"Bak_Cur":0.353,"Bim":0.12,"Bim_Cur":0.11},
{"t":19.5,"Bad":0.335,"Bad_Cur":0.355,"Bak":0.273,"Bak_Cur":0.348,"Bim":0.118,"Bim_Cur":0.148},
{"t":19.7,"Bad":0.328,"Bad_Cur":0.353,"Bak":0.31,"Bak_Cur":0.38,"Bim":0.13,"Bim_Cur":0.145},
{"t":19.9,"Bad":0.338,"Bad_Cur":0.385,"Bak":0.303,"Bak_Cur":0.375,"Bim":0.138,"Bim_Cur":0.148},
{"t":20.1,"Bad":0.303,"Bad_Cur":0.38,"Bak":0.28,"Bak_Cur":0.333,"Bim":0.153,"Bim_Cur":0.153},
{"t":20.3,"Bad":0.305,"Bad_Cur":0.378,"Bak":0.278,"Bak_Cur":0.33,"Bim":0.115,"Bim_Cur":0.115},
{"t":20.5,"Bad":0.308,"Bad_Cur":0.365,"Bak":0.313,"Bak_Cur":0.325,"Bim":0.153,"Bim_Cur":0.118},
{"t":20.7,"Bad":0.31,"Bad_Cur":0.36,"Bak":0.31,"Bak_Cur":0.36,"Bim":0.15,"Bim_Cur":0.12},
{"t":20.9,"Bad":0.305,"Bad_Cur":0.388,"Bak":0.308,"Bak_Cur":0.363,"Bim":0.115,"Bim_Cur":0.115},
{"t":21.1,"Bad":0.338,"Bad_Cur":0.343,"Bak":0.308,"Bak_Cur":0.365,"Bim":0.118,"Bim_Cur":0.11},
{"t":21.3,"Bad":0.335,"Bad_Cur":0.34,"Bak":0.313,"Bak_Cur":0.368,"Bim":0.115,"Bim_Cur":0.11},
{"t":21.5,"Bad":0.338,"Bad_Cur":0.378,"Bak":0.275,"Bak_Cur":0.333,"Bim":0.153,"Bim_Cur":0.148},
{"t":21.7,"Bad":0.303,"Bad_Cur":0.375,"Bak":0.278,"Bak_Cur":0.335,"Bim":0.15,"Bim_Cur":0.145},
{"t":21.9,"Bad":0.305,"Bad_Cur":0.373,"Bak":0.28,"Bak_Cur":0.338,"Bim":0.148,"Bim_Cur":0.15},
{"t":22.1,"Bad":0.343,"Bad_Cur":0.37,"Bak":0.315,"Bak_Cur":0.34,"Bim":0.123,"Bim_Cur":0.113},
{"t":22.3,"Bad":0.305,"Bad_Cur":0.373,"Bak":0.31,"Bak_Cur":0.345,"Bim":0.118,"Bim_Cur":0.11},
{"t":22.5,"Bad":0.313,"Bad_Cur":0.34,"Bak":0.315,"Bak_Cur":0.348,"Bim":0.115,"Bim_Cur":0.148},
{"t":22.7,"Bad":0.31,"Bad_Cur":0.343,"Bak":0.278,"Bak_Cur":0.343,"Bim":0.153,"Bim_Cur":0.145},
{"t":22.9,"Bad":0.345,"Bad_Cur":0.338,"Bak":0.283,"Bak_Cur":0.378,"Bim":0.15,"Bim_Cur":0.143},
{"t":23.1,"Bad":0.308,"Bad_Cur":0.333,"Bak":0.285,"Bak_Cur":0.333,"Bim":0.153,"Bim_Cur":0.145},
{"t":23.3,"Bad":0.31,"Bad_Cur":0.328,"Bak":0.278,"Bak_Cur":0.328,"Bim":0.115,"Bim_Cur":0.11},
{"t":23.5,"Bad":0.308,"Bad_Cur":0.363,"Bak":0.313,"Bak_Cur":0.325,"Bim":0.15,"Bim_Cur":0.148},
{"t":23.7,"Bad":0.343,"Bad_Cur":0.36,"Bak":0.31,"Bak_Cur":0.363,"Bim":0.145,"Bim_Cur":0.145},
{"t":23.9,"Bad":0.345,"Bad_Cur":0.363,"Bak":0.313,"Bak_Cur":0.36,"Bim":0.135,"Bim_Cur":0.148},
{"t":24.1,"Bad":0.308,"Bad_Cur":0.365,"Bak":0.273,"Bak_Cur":0.365,"Bim":0.128,"Bim_Cur":0.11},
{"t":24.3,"Bad":0.303,"Bad_Cur":0.328,"Bak":0.308,"Bak_Cur":0.37,"Bim":0.11,"Bim_Cur":0.148},
{"t":24.5,"Bad":0.338,"Bad_Cur":0.33,"Bak":0.305,"Bak_Cur":0.373,"Bim":0.148,"Bim_Cur":0.145},
{"t":24.7,"Bad":0.335,"Bad_Cur":0.328,"Bak":0.308,"Bak_Cur":0.34,"Bim":0.145,"Bim_Cur":0.148},
{"t":24.9,"Bad":0.338,"Bad_Cur":0.363,"Bak":0.305,"Bak_Cur":0.345,"Bim":0.148,"Bim_Cur":0.113},
{"t":25.1,"Bad":0.303,"Bad_Cur":0.36,"Bak":0.318,"Bak_Cur":0.388,"Bim":0.15,"Bim_Cur":0.115},
{"t":25.3,"Bad":0.305,"Bad_Cur":0.358,"Bak":0.315,"Bak_Cur":0.39,"Bim":0.15,"Bim_Cur":0.118},
{"t":25.5,"Bad":0.338,"Bad_Cur":0.355,"Bak":0.318,"Bak_Cur":0.355,"Bim":0.153,"Bim_Cur":0.12},
{"t":25.7,"Bad":0.333,"Bad_Cur":0.358,"Bak":0.283,"Bak_Cur":0.358,"Bim":0.115,"Bim_Cur":0.118},
{"t":25.9,"Bad":0.298,"Bad_Cur":0.323,"Bak":0.285,"Bak_Cur":0.393,"Bim":0.118,"Bim_Cur":0.115},
{"t":26.1,"Bad":0.295,"Bad_Cur":0.325,"Bak":0.288,"Bak_Cur":0.348,"Bim":0.123,"Bim_Cur":0.163},
{"t":26.3,"Bad":0.293,"Bad_Cur":0.365,"Bak":0.29,"Bak_Cur":0.343,"Bim":0.125,"Bim_Cur":0.173},
{"t":26.5,"Bad":0.33,"Bad_Cur":0.328,"Bak":0.288,"Bak_Cur":0.335,"Bim":0.123,"Bim_Cur":0.14},
{"t":26.7,"Bad":0.328,"Bad_Cur":0.33,"Bak":0.323,"Bak_Cur":0.37,"Bim":0.16,"Bim_Cur":0.143},
{"t":26.9,"Bad":0.325,"Bad_Cur":0.328,"Bak":0.32,"Bak_Cur":0.368,"Bim":0.123,"Bim_Cur":0.148},
{"t":27.1,"Bad":0.278,"Bad_Cur":0.37,"Bak":0.278,"Bak_Cur":0.325,"Bim":0.108,"Bim_Cur":0.15},
{"t":27.3,"Bad":0.315,"Bad_Cur":0.375,"Bak":0.275,"Bak_Cur":0.323,"Bim":0.113,"Bim_Cur":0.143},
{"t":27.5,"Bad":0.31,"Bad_Cur":0.378,"Bak":0.278,"Bak_Cur":0.36,"Bim":0.103,"Bim_Cur":0.175},
{"t":27.7,"Bad":0.307,"Bad_Cur":0.345,"Bak":0.315,"Bak_Cur":0.358,"Bim":0.095,"Bim_Cur":0.17},
{"t":27.9,"Bad":0.275,"Bad_Cur":0.35,"Bak":0.31,"Bak_Cur":0.323,"Bim":0.128,"Bim_Cur":0.173},
{"t":28.1,"Bad":0.322,"Bad_Cur":0.33,"Bak":0.275,"Bak_Cur":0.33,"Bim":0.12,"Bim_Cur":0.13},
{"t":28.3,"Bad":0.285,"Bad_Cur":0.328,"Bak":0.28,"Bak_Cur":0.328,"Bim":0.118,"Bim_Cur":0.125},
{"t":28.5,"Bad":0.29,"Bad_Cur":0.358,"Bak":0.278,"Bak_Cur":0.323,"Bim":0.12,"Bim_Cur":0.123},
{"t":28.7,"Bad":0.293,"Bad_Cur":0.353,"Bak":0.313,"Bak_Cur":0.32,"Bim":0.088,"Bim_Cur":0.158},
{"t":28.9,"Bad":0.325,"Bad_Cur":0.348,"Bak":0.31,"Bak_Cur":0.358,"Bim":0.09,"Bim_Cur":0.153},
{"t":29.1,"Bad":0.318,"Bad_Cur":0.348,"Bak":0.31,"Bak_Cur":0.315,"Bim":0.093,"Bim_Cur":0.108},
{"t":29.3,"Bad":0.315,"Bad_Cur":0.313,"Bak":0.313,"Bak_Cur":0.353,"Bim":0.095,"Bim_Cur":0.105},
{"t":29.5,"Bad":0.318,"Bad_Cur":0.31,"Bak":0.278,"Bak_Cur":0.35,"Bim":0.093,"Bim_Cur":0.143},
{"t":29.7,"Bad":0.28,"Bad_Cur":0.348,"Bak":0.28,"Bak_Cur":0.315,"Bim":0.128,"Bim_Cur":0.14},
{"t":29.9,"Bad":0.285,"Bad_Cur":0.343,"Bak":0.315,"Bak_Cur":0.353,"Bim":0.093,"Bim_Cur":0.105}
]},
"hconcat":[
{
 "width":384,"height":418,
 "title":{"text":"RMSD-Bad","dx":-29},
 "layer":[
  {
   "data":{"name":"rmsd"},
   "transform":[{"fold":["Bad","Bad_Cur"],"as":["series","rmsd"]}],
   "mark":{"type":"line","strokeWidth":1.8},
   "encoding":{
    "x":{"field":"t","type":"quantitative","scale":{"domain":[-0.3,30],"nice":false,"zero":false},"axis":{"values":[0,5,10,15,20,25,30],"title":"Time (ns)","titleX":188,"titleY":53}},
    "y":{"field":"rmsd","type":"quantitative","scale":{"domain":[0,0.45],"nice":false},"axis":{"values":[0,0.05,0.1,0.15,0.2,0.25,0.3,0.35,0.4,0.45],"format":"~g","title":"RMSD (nm)","titleX":-47,"titleY":181}},
    "color":{"field":"series","type":"nominal","scale":{"domain":["Bad","Bad_Cur"],"range":["#1e8cff","#ff0a3c"]},"legend":{"offset":2}}
   }
  },
  {
   "data":{"values":[{"panel":"A"}]},
   "mark":{"type":"rect","color":"#231f20"},
   "encoding":{
    "x":{"datum":-6.14,"scale":{"domain":[-0.3,30],"nice":false,"zero":false}},"x2":{"datum":-3.22},
    "y":{"datum":-0.0151,"scale":{"domain":[0,0.45],"nice":false}},"y2":{"datum":-0.0678}
   }
  },
  {
   "data":{"values":[{"panel":"A"}]},
   "mark":{"type":"text","color":"white","font":"Liberation Serif","fontSize":34,"align":"center","baseline":"middle"},
   "encoding":{
    "x":{"datum":-4.68,"scale":{"domain":[-0.3,30],"nice":false,"zero":false}},
    "y":{"datum":-0.043,"scale":{"domain":[0,0.45],"nice":false}},
    "text":{"field":"panel"}
   }
  }
 ]
},
{
 "width":381,"height":421,
 "title":{"text":"RMSD-Bak","dx":-27},
 "layer":[
  {
   "data":{"name":"rmsd"},
   "transform":[{"fold":["Bak","Bak_Cur"],"as":["series","rmsd"]}],
   "mark":{"type":"line","strokeWidth":1.8},
   "encoding":{
    "x":{"field":"t","type":"quantitative","scale":{"domain":[-0.3,30],"nice":false,"zero":false},"axis":{"values":[0,5,10,15,20,25,30],"title":"Time (ns)","titleX":185,"titleY":49}},
    "y":{"field":"rmsd","type":"quantitative","scale":{"domain":[0,0.45],"nice":false},"axis":{"values":[0,0.05,0.1,0.15,0.2,0.25,0.3,0.35,0.4,0.45],"format":"~g","title":"RMSD (nm)","titleX":-44,"titleY":177}},
    "color":{"field":"series","type":"nominal","scale":{"domain":["Bak","Bak_Cur"],"range":["#1e8cff","#ff0a3c"]},"legend":{"offset":-3}}
   }
  },
  {
   "data":{"values":[{"panel":"B"}]},
   "mark":{"type":"rect","color":"#231f20"},
   "encoding":{
    "x":{"datum":-4.99,"scale":{"domain":[-0.3,30],"nice":false,"zero":false}},"x2":{"datum":-2.05},
    "y":{"datum":-0.0118,"scale":{"domain":[0,0.45],"nice":false}},"y2":{"datum":-0.0641}
   }
  },
  {
   "data":{"values":[{"panel":"B"}]},
   "mark":{"type":"text","color":"white","font":"Liberation Serif","fontSize":34,"align":"center","baseline":"middle"},
   "encoding":{
    "x":{"datum":-3.52,"scale":{"domain":[-0.3,30],"nice":false,"zero":false}},
    "y":{"datum":-0.0395,"scale":{"domain":[0,0.45],"nice":false}},
    "text":{"field":"panel"}
   }
  }
 ]
},
{
 "width":378,"height":421,
 "title":{"text":"RMSD-Bim","dx":-30},
 "layer":[
  {
   "data":{"name":"rmsd"},
   "transform":[{"fold":["Bim","Bim_Cur"],"as":["series","rmsd"]}],
   "mark":{"type":"line","strokeWidth":1.8},
   "encoding":{
    "x":{"field":"t","type":"quantitative","scale":{"domain":[-0.3,30],"nice":false,"zero":false},"axis":{"values":[0,5,10,15,20,25,30],"title":"Time (ns)","titleX":177,"titleY":52}},
    "y":{"field":"rmsd","type":"quantitative","scale":{"domain":[0.05,0.45],"nice":false,"zero":false},"axis":{"values":[0.05,0.1,0.15,0.2,0.25,0.3,0.35,0.4,0.45],"format":"~g","title":"RMSD (nm)","titleX":-49,"titleY":206}},
    "color":{"field":"series","type":"nominal","scale":{"domain":["Bim","Bim_Cur"],"range":["#1e8cff","#ff0a3c"]},"legend":{"offset":5}}
   }
  },
  {
   "data":{"values":[{"panel":"C"}]},
   "mark":{"type":"rect","color":"#231f20"},
   "encoding":{
    "x":{"datum":-4.39,"scale":{"domain":[-0.3,30],"nice":false,"zero":false}},"x2":{"datum":-1.42},
    "y":{"datum":0.0395,"scale":{"domain":[0.05,0.45],"nice":false,"zero":false}},"y2":{"datum":-0.007}
   }
  },
  {
   "data":{"values":[{"panel":"C"}]},
   "mark":{"type":"text","color":"white","font":"Liberation Serif","fontSize":34,"align":"center","baseline":"middle"},
   "encoding":{
    "x":{"datum":-2.91,"scale":{"domain":[-0.3,30],"nice":false,"zero":false}},
    "y":{"datum":0.0148,"scale":{"domain":[0.05,0.45],"nice":false,"zero":false}},
    "text":{"field":"panel"}
   }
  }
 ]
}
],
"resolve":{"scale":{"color":"independent","x":"independent","y":"independent"}}
}
